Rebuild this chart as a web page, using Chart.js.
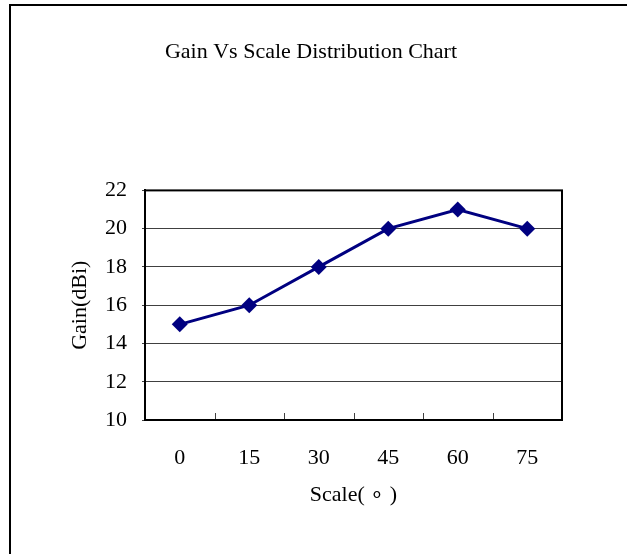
<!DOCTYPE html>
<html lang="en">
<head>
  <meta charset="UTF-8">
  <title>Gain Vs Scale Distribution Chart</title>
  <script src="https://cdn.jsdelivr.net/npm/chart.js"></script>
  <style>
    body {
      margin: 0;
      background-color: #ffffff;
    }
    .wrap {
      position: relative;
      width: 627px;
      height: 554px;
      overflow: hidden;
    }
    .frame {
      position: absolute;
      left: 9px;
      top: 4px;
      width: 620px;
      height: 560px;
      border-top: 2px solid #000;
      border-left: 2px solid #000;
      pointer-events: none;
    }
    canvas {
      position: absolute;
      left: 0;
      top: 0;
    }
  </style>
</head>
<body>
  <div class="wrap">
    <canvas id="gainChart" width="627" height="554"></canvas>
    <div class="frame"></div>
  </div>

  <script>
    // Chart data
    const scaleLabels = ['0', '15', '30', '45', '60', '75'];
    const gainValues = [15, 16, 18, 20, 21, 20];
    const gainMin = 10;
    const gainMax = 22;
    const gainStep = 2;

    const serif = "'Liberation Serif', 'Times New Roman', serif";

    // Box around the plot area and the short inside ticks on the x axis
    const plotBox = {
      id: 'plotBox',
      afterDatasetsDraw(chart) {
        const { ctx, chartArea } = chart;
        const x = chart.scales.x;
        ctx.save();
        ctx.strokeStyle = '#404040';
        ctx.lineWidth = 1;
        for (let i = 1; i < scaleLabels.length; i++) {
          const px = Math.round((x.getPixelForValue(i - 1) + x.getPixelForValue(i)) / 2) + 0.5;
          ctx.beginPath();
          ctx.moveTo(px, chartArea.bottom);
          ctx.lineTo(px, chartArea.bottom - 7);
          ctx.stroke();
        }
        ctx.strokeStyle = '#000';
        ctx.lineWidth = 2;
        ctx.strokeRect(chartArea.left, chartArea.top, chartArea.right - chartArea.left, chartArea.bottom - chartArea.top);
        ctx.restore();
      }
    };

    new Chart(document.getElementById('gainChart').getContext('2d'), {
      type: 'line',
      data: {
        labels: scaleLabels,
        datasets: [{
          label: 'Gain',
          data: gainValues,
          borderColor: '#000080',
          backgroundColor: '#000080',
          borderWidth: 3,
          tension: 0,
          pointStyle: 'rectRot',
          pointRadius: 8,
          pointHoverRadius: 8,
          pointBorderWidth: 0
        }]
      },
      options: {
        responsive: false,
        animation: false,
        events: [],
        layout: {
          autoPadding: false,
          padding: { left: 0, top: 0, right: 5, bottom: 0 }
        },
        plugins: {
          legend: { display: false },
          tooltip: { enabled: false },
          title: {
            display: true,
            text: 'Gain Vs Scale Distribution Chart',
            color: '#000',
            font: { family: serif, size: 22, weight: 'normal' },
            padding: { top: 39, bottom: 125 }
          }
        },
        scales: {
          x: {
            offset: true,
            afterFit(scale) { scale.height = 134; },
            grid: { drawOnChartArea: false, drawTicks: false },
            border: { color: '#000', width: 2 },
            ticks: {
              color: '#000',
              padding: 25,
              font: { family: serif, size: 22 }
            },
            title: {
              display: true,
              text: 'Scale( ∘ )',
              color: '#000',
              font: { family: serif, size: 22 },
              padding: { top: 0, bottom: 46 }
            }
          },
          y: {
            min: gainMin,
            max: gainMax,
            afterFit(scale) { scale.width = 145; },
            grid: { color: '#404040', lineWidth: 1, tickLength: 3 },
            border: { color: '#000', width: 2 },
            ticks: {
              stepSize: gainStep,
              color: '#000',
              padding: 15,
              font: { family: serif, size: 22 }
            },
            title: {
              display: true,
              text: 'Gain(dBi)',
              color: '#000',
              font: { family: serif, size: 22 },
              padding: { top: 67, bottom: 0 }
            }
          },
          // empty right-hand margin so the title centres like the reference
          yRight: {
            position: 'right',
            min: gainMin,
            max: gainMax,
            afterFit(scale) { scale.width = 60; },
            grid: { display: false },
            border: { display: false },
            ticks: { display: false }
          }
        }
      },
      plugins: [plotBox]
    });
  </script>
</body>
</html>
